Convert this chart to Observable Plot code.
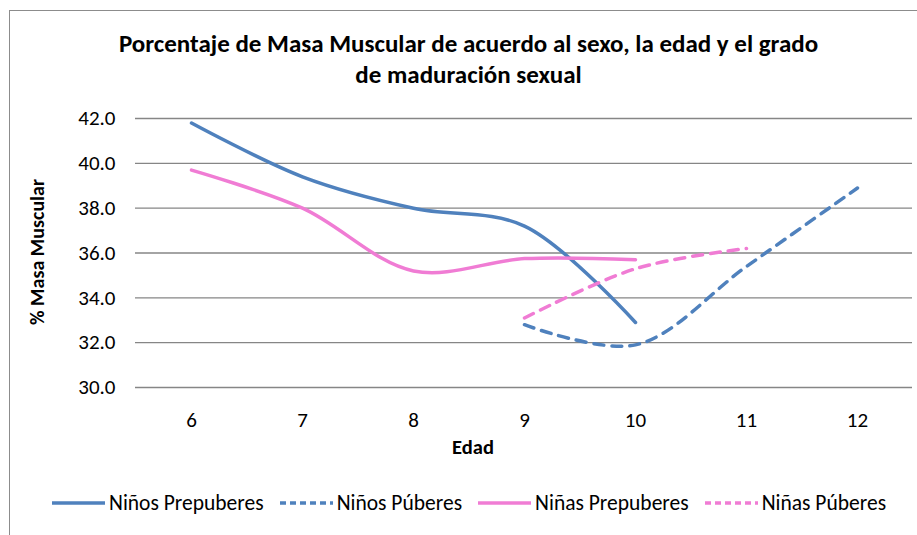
<!DOCTYPE html>
<html>
<head>
<meta charset="utf-8">
<script src="https://cdn.jsdelivr.net/npm/d3@7"></script>
<script src="https://cdn.jsdelivr.net/npm/@observablehq/plot@0.6"></script>
<style>
  html, body { margin: 0; padding: 0; background: #fff; }
  #wrap { position: relative; width: 917px; height: 535px; overflow: hidden; font-family: Carlito, "Liberation Sans Narrow", "Liberation Sans", sans-serif; color: #000; }
  #frame { position: absolute; left: 9px; top: 10px; width: 920px; height: 540px; border-left: 1.5px solid #8c8c8c; border-top: 1.5px solid #8c8c8c; }
  #title { position: absolute; left: 0; width: 937px; top: 28px; text-align: center; font-weight: bold; font-size: 25px; line-height: 31px; }
  #chart { position: absolute; left: 0; top: 0; }
  #ylabel { position: absolute; left: 37px; top: 252px; transform: translate(-50%, -50%) rotate(-90deg); font-weight: bold; font-size: 20px; white-space: nowrap; }
  #xlabel { position: absolute; left: 473px; top: 447px; transform: translate(-50%, -50%); font-weight: bold; font-size: 20.5px; }
  #legend { position: absolute; left: 51px; top: 503px; transform: translateY(-50%); display: flex; align-items: center; font-size: 21.5px; white-space: nowrap; }
  #legend .item { display: flex; align-items: center; margin-right: 15px; }
  #legend svg { margin-right: 3px; }
</style>
</head>
<body>
<div id="wrap">
  <div id="frame"></div>
  <div id="chart"></div>
  <div id="title">Porcentaje de Masa Muscular de acuerdo al sexo, la edad y el grado<br>de maduración sexual</div>
  <div id="ylabel">% Masa Muscular</div>
  <div id="xlabel">Edad</div>
  <div id="legend"></div>
</div>
<script>
const edades = [6, 7, 8, 9, 10, 11, 12];
const yTicks = [30, 32, 34, 36, 38, 40, 42];

const ninosPreEdad = [6, 7, 8, 9, 10];
const ninosPre = [41.8, 39.4, 38.0, 37.2, 32.9];
const ninosPubEdad = [9, 10, 11, 12];
const ninosPub = [32.8, 31.9, 35.4, 38.9];
const ninasPreEdad = [6, 7, 8, 9, 10];
const ninasPre = [39.7, 38.0, 35.2, 35.75, 35.7];
const ninasPubEdad = [9, 10, 11];
const ninasPub = [33.1, 35.3, 36.2];

const seriesNames = ["Niños Prepuberes", "Niños Púberes", "Niñas Prepuberes", "Niñas Púberes"];
const blue = "#4F81BD", pink = "#F07CD4";
const styles = [
  {color: blue, dash: null},
  {color: blue, dash: "10,8"},
  {color: pink, dash: null},
  {color: pink, dash: "10,8"}
];

const toRows = (xs, ys) => xs.map((x, i) => ({edad: x, valor: ys[i]}));
const series = [
  toRows(ninosPreEdad, ninosPre),
  toRows(ninosPubEdad, ninosPub),
  toRows(ninasPreEdad, ninasPre),
  toRows(ninasPubEdad, ninasPub)
];

const font = 'Carlito, "Liberation Sans Narrow", "Liberation Sans", sans-serif';

const plot = Plot.plot({
  width: 917,
  height: 470,
  marginLeft: 135,
  marginRight: 5,
  marginTop: 118,
  marginBottom: 83,
  style: {fontFamily: font, fontSize: "21px", color: "#000", background: "transparent"},
  x: {type: "point", domain: edades, padding: 0.5},
  y: {domain: [30, 42]},
  marks: [
    Plot.ruleY(yTicks, {stroke: "#868686", strokeWidth: 1.3}),
    Plot.axisY({ticks: yTicks, tickFormat: d => d.toFixed(1), tickSize: 0, tickPadding: 20, label: null, fontSize: 21}),
    Plot.axisX({ticks: edades, tickSize: 0, tickPadding: 25, label: null, fontSize: 21}),
    ...series.map((rows, i) => Plot.line(rows, {
      x: "edad", y: "valor", curve: "catmull-rom",
      stroke: styles[i].color, strokeWidth: 3.5, strokeLinecap: "round",
      strokeDasharray: styles[i].dash || undefined
    }))
  ]
});
document.getElementById("chart").appendChild(plot);

const legend = document.getElementById("legend");
seriesNames.forEach((name, i) => {
  const item = document.createElement("div");
  item.className = "item";
  const st = styles[i];
  item.innerHTML = `<svg width="55" height="10"><line x1="1" y1="5" x2="54" y2="5" stroke="${st.color}" stroke-width="3.5" ${st.dash ? 'stroke-dasharray="6,4"' : ''}/></svg><span>${name}</span>`;
  legend.appendChild(item);
});
</script>
</body>
</html>
